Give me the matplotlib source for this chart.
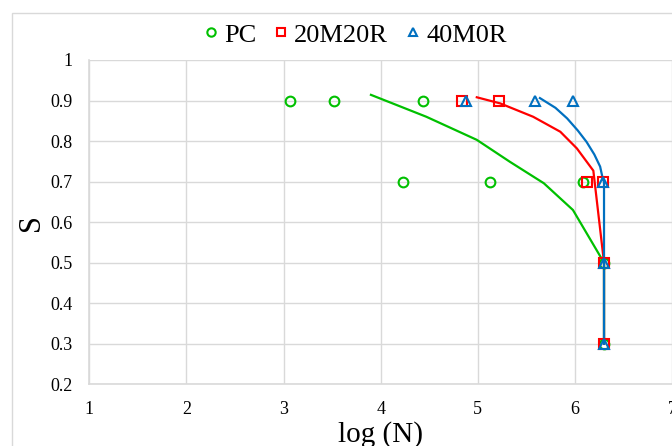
import matplotlib
matplotlib.use("Agg")
import matplotlib.pyplot as plt
from matplotlib.lines import Line2D
from matplotlib.patches import Rectangle

plt.rcParams['font.family'] = ['Liberation Serif', 'DejaVu Serif']

# test points (log N, S)
pc_logn = [3.07, 3.52, 4.44, 4.23, 5.13, 6.08, 6.30, 6.30]
pc_s = [0.9, 0.9, 0.9, 0.7, 0.7, 0.7, 0.5, 0.3]
r20_logn = [4.84, 5.22, 6.12, 6.29, 6.30, 6.30]
r20_s = [0.9, 0.9, 0.7, 0.7, 0.5, 0.3]
m40_logn = [4.88, 5.59, 5.98, 6.29, 6.30, 6.30]
m40_s = [0.9, 0.9, 0.9, 0.7, 0.5, 0.3]

# fitted curves
pc_fit_x = [3.90, 4.47, 4.99, 5.33, 5.68, 5.98, 6.30, 6.30]
pc_fit_y = [0.914, 0.860, 0.803, 0.749, 0.696, 0.630, 0.50, 0.30]
r20_fit_x = [4.99, 5.23, 5.57, 5.85, 6.02, 6.19, 6.30, 6.30]
r20_fit_y = [0.908, 0.893, 0.860, 0.823, 0.782, 0.727, 0.50, 0.30]
m40_fit_x = [5.64, 5.80, 5.92, 6.03, 6.12, 6.20, 6.26, 6.29, 6.30, 6.30]
m40_fit_y = [0.906, 0.882, 0.856, 0.826, 0.798, 0.767, 0.737, 0.704, 0.70, 0.30]

green = '#00C000'
red = '#FF0000'
blue = '#0070C0'
grid_c = '#D9D9D9'

fig = plt.figure(figsize=(6.72, 4.46), dpi=100)
ax = fig.add_axes([0.1329, 0.1383, 0.8671, 0.7272])

# outer chart border (cut off at right/bottom like the original)
fig.patches.append(Rectangle((11.5 / 672, -0.1), 1.2, 1 - 12.5 / 446 + 0.1,
                             transform=fig.transFigure, fill=False,
                             edgecolor=grid_c, lw=1))

ax.plot(pc_fit_x, pc_fit_y, color=green, lw=1.6, zorder=3)
ax.plot(r20_fit_x, r20_fit_y, color=red, lw=1.6, zorder=3)
ax.plot(m40_fit_x, m40_fit_y, color=blue, lw=1.6, zorder=3)

ax.plot(pc_logn, pc_s, ls='none', marker='o', ms=7, mfc='none', mec=green, mew=1.5, zorder=4)
ax.plot(r20_logn, r20_s, ls='none', marker='s', ms=7, mfc='none', mec=red, mew=1.5, zorder=4)
ax.plot(m40_logn, m40_s, ls='none', marker='^', ms=7, mfc='none', mec=blue, mew=1.5, zorder=4)

ax.set_xlim(1, 7)
ax.set_ylim(0.2, 1)
ax.set_xticks([1, 2, 3, 4, 5, 6, 7])
ax.set_yticks([0.2, 0.3, 0.4, 0.5, 0.6, 0.7, 0.8, 0.9, 1.0])
ax.set_yticklabels(['0.2', '0.3', '0.4', '0.5', '0.6', '0.7', '0.8', '0.9', '1'])
ax.tick_params(length=0, labelsize=13)
ax.tick_params(axis='y', pad=12)
ax.tick_params(axis='x', pad=12)
ax.grid(True, color=grid_c, lw=1)
ax.set_axisbelow(True)
for side in ['top', 'right']:
    ax.spines[side].set_visible(False)
for side in ['left', 'bottom']:
    ax.spines[side].set_color(grid_c)
    ax.spines[side].set_linewidth(1.2)

ax.set_xlabel('log (N)', fontsize=21, labelpad=2)
ax.set_ylabel('S', fontsize=22, labelpad=3)

handles = [
    Line2D([], [], ls='none', marker='o', ms=6, mfc='none', mec=green, mew=1.5, label='PC'),
    Line2D([], [], ls='none', marker='s', ms=6, mfc='none', mec=red, mew=1.5, label='20M20R'),
    Line2D([], [], ls='none', marker='^', ms=6, mfc='none', mec=blue, mew=1.5, label='40M0R'),
]
fig.legend(handles=handles, loc='center', bbox_to_anchor=(0.527, 0.922), ncol=3,
           frameon=False, fontsize=19, handlelength=0.7, handletextpad=0.15,
           columnspacing=0.6, borderpad=0)

fig.savefig('out.png', dpi=100)
